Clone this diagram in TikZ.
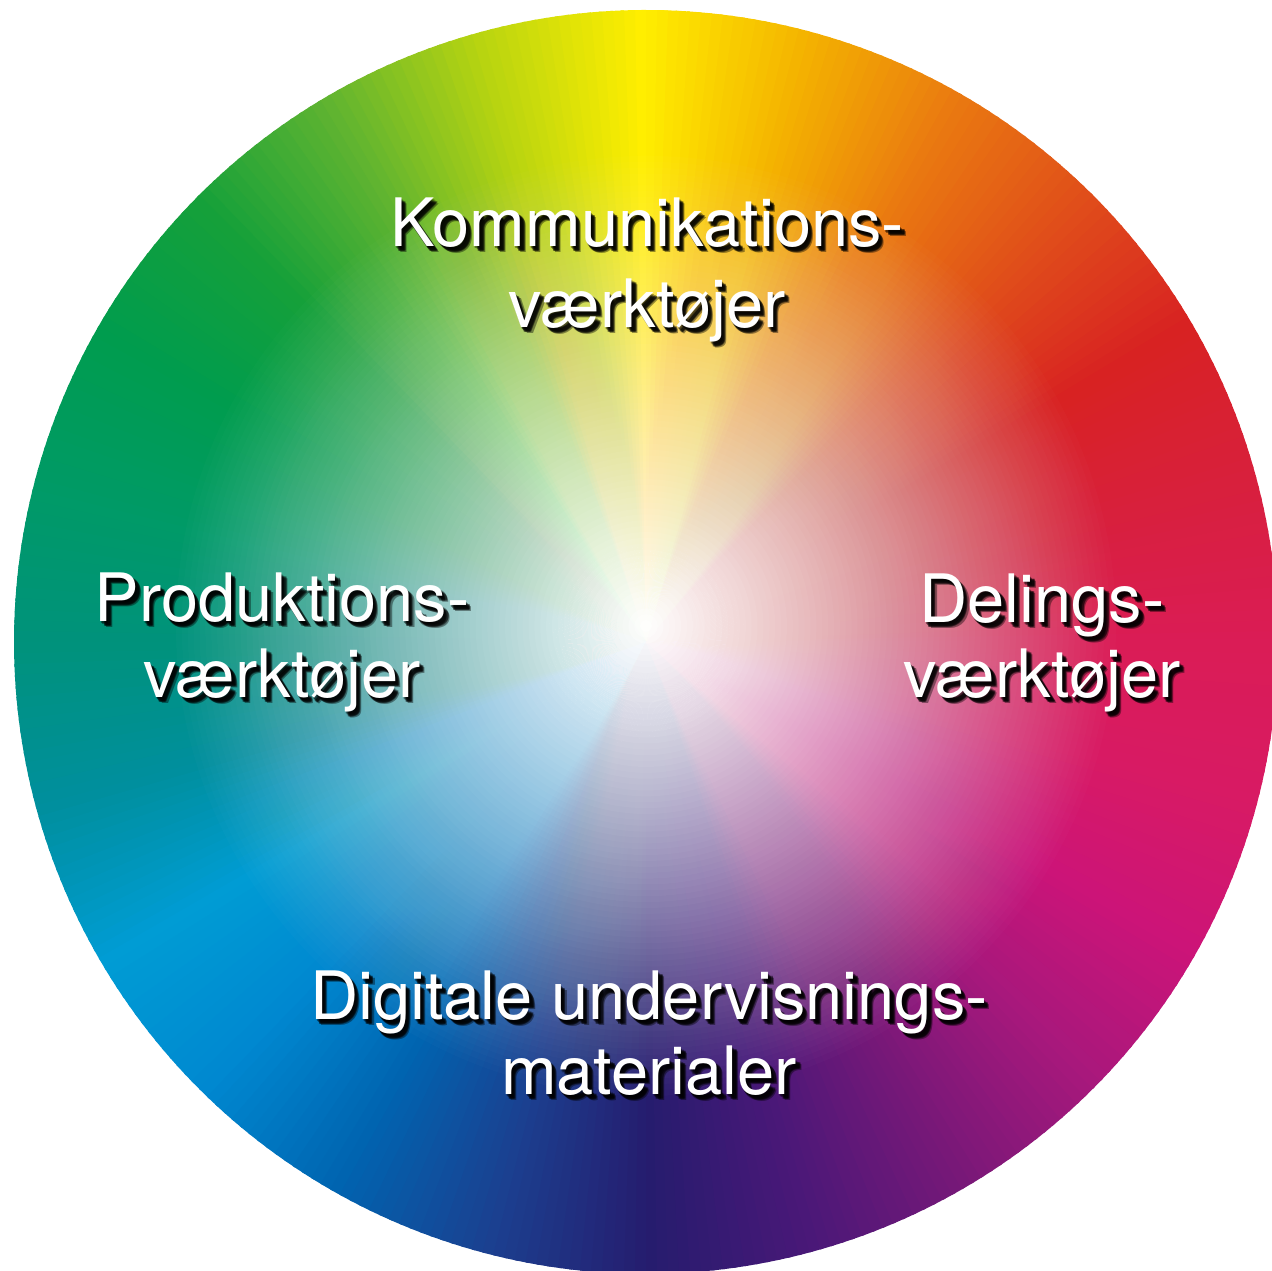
\documentclass[tikz,border=0pt]{standalone}
\usepackage{fontspec}
\setmainfont{TeX Gyre Heros}
\usepackage{tikz}
\definecolor{hue0}{HTML}{DA1C55}
\definecolor{hue1}{HTML}{D8203C}
\definecolor{hue2}{HTML}{D82222}
\definecolor{hue3}{HTML}{E04E1A}
\definecolor{hue4}{HTML}{EA7A10}
\definecolor{hue5}{HTML}{F4B400}
\definecolor{hue6}{HTML}{FFEE00}
\definecolor{hue7}{HTML}{B8D410}
\definecolor{hue8}{HTML}{60B430}
\definecolor{hue9}{HTML}{15A03A}
\definecolor{hue10}{HTML}{009C4E}
\definecolor{hue11}{HTML}{009A66}
\definecolor{hue12}{HTML}{00927C}
\definecolor{hue13}{HTML}{008F9E}
\definecolor{hue14}{HTML}{009CD4}
\definecolor{hue15}{HTML}{0088D0}
\definecolor{hue16}{HTML}{0064B0}
\definecolor{hue17}{HTML}{1B4090}
\definecolor{hue18}{HTML}{261C6E}
\definecolor{hue19}{HTML}{4A1878}
\definecolor{hue20}{HTML}{781878}
\definecolor{hue21}{HTML}{A8187C}
\definecolor{hue22}{HTML}{CC1478}
\definecolor{hue23}{HTML}{D81A64}
\tikzset{
	lbl/.style={text=white, font=\fontsize{19}{22}\selectfont, inner sep=0pt, anchor=base},
	lblshadow/.style={lbl, text=black, opacity=0.4}
}
\newcommand{\wlabel}[3]{%
	\foreach \sd/\se in {1/1,2/2,3/3,4/4,5/5,3/4,4/3}{
		\node[lblshadow, xshift=\sd*0.011cm, yshift=-\se*0.011cm] (#1-sh\sd\se) at (#2) {#3};
	}
	\node[lbl] (#1) at (#2) {#3};
}

\begin{document}
\begin{tikzpicture}[x=1cm, y=1cm]
	\useasboundingbox (0,0) rectangle (12.72,12.71);
	\clip (0,0) rectangle (12.72,12.71);
	\coordinate (wc) at (6.46,6.29);
	\coordinate (wh) at (6.46,6.45);
	\foreach \i in {0,...,23}{
		\pgfmathtruncatemacro\j{mod(\i+1,24)}
		\foreach \s in {0,...,14}{
			\pgfmathtruncatemacro\p{100-\s*100/15}
			\pgfmathsetmacro\a{15*\i+\s}
			\colorlet{wedgecol}{hue\i!\p!hue\j}
			\fill[wedgecol] (wc) -- ++(\a:6.32) arc[start angle=\a, end angle=\a+1.3, radius=6.32] -- cycle;
		}
	}
	\foreach \k in {80,...,1}{
		\pgfmathsetmacro\op{1-(\k/(\k+1))^1.25}
		\fill[white, opacity=\op] (wh) circle ({\k*4.7/80});
	}
	\wlabel{komm1}{6.47,10.24}{Kommunikations-}
	\wlabel{komm2}{[yshift=-0.81cm]komm1.base}{værktøjer}
	\wlabel{prod1}{2.82,6.49}{Produktions-}
	\wlabel{prod2}{[yshift=-0.76cm]prod1.base}{værktøjer}
	\wlabel{del1}{10.42,6.48}{Delings-}
	\wlabel{del2}{[yshift=-0.75cm]del1.base}{værktøjer}
	\wlabel{dig1}{6.49,2.51}{Digitale undervisnings-}
	\wlabel{dig2}{[yshift=-0.75cm]dig1.base}{materialer}
\end{tikzpicture}
\end{document}
